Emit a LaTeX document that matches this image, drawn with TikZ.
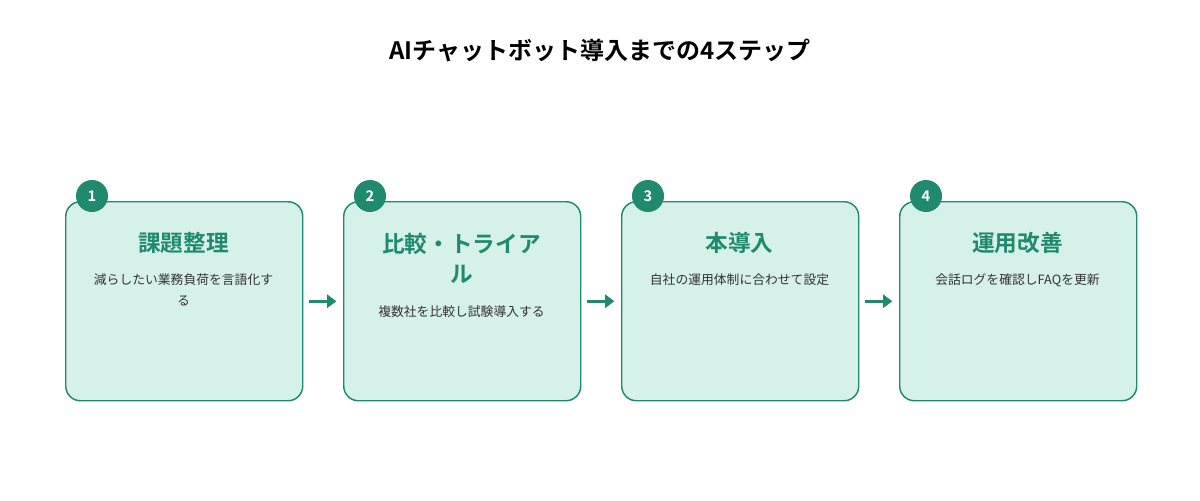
\documentclass[tikz,border=0pt]{standalone}
\usepackage{fontspec}
\newfontfamily\cjk{Noto Sans CJK JP}
\newfontfamily\cjkb{Noto Sans CJK JP Bold}
\usetikzlibrary{arrows.meta}
\definecolor{gr}{HTML}{1F8A6E}
\definecolor{bx}{HTML}{D6F1E9}
\definecolor{tx}{HTML}{333333}
\begin{document}
\begin{tikzpicture}[x=0.75pt,y=-0.75pt,
 box/.style={draw=gr,fill=bx,line width=1.1pt,rounded corners=11pt,minimum width=177.75pt,minimum height=149.25pt,inner sep=0},
 num/.style={circle,fill=gr,minimum size=24pt,inner sep=0,text=white,font=\cjkb\fontsize{11}{13}\selectfont},
 ttl/.style={text=gr,font=\cjkb\fontsize{17}{22.5}\selectfont,align=center},
 dsc/.style={text=tx,font=\cjk\fontsize{9.6}{16}\selectfont,align=center},
 arr/.style={draw=gr,line width=2.2pt,-{Triangle[length=7pt,width=10pt]}}]
\useasboundingbox (0,0) rectangle (1200,500);
\node[font=\cjkb\fontsize{18}{22}\selectfont,text=black] (title) at (600,51) {AIチャットボット導入までの4ステップ};
\foreach \i/\x in {1/65,2/343,3/621,4/899}{
  \node[box,anchor=north west] (b\i) at (\x,201) {};
  \node[num] (n\i) at (\x+27,196) {\i};
}
\node[ttl] (t1) at (183.5,243) {課題整理};
\node[dsc] (d1) at (183.5,290) {減らしたい業務負荷を言語化す\\る};
\node[ttl] (t2) at (461.5,258) {比較・トライア\\ル};
\node[dsc] (d2) at (461.5,312) {複数社を比較し試験導入する};
\node[ttl] (t3) at (739.5,243) {本導入};
\node[dsc] (d3) at (739.5,280) {自社の運用体制に合わせて設定};
\node[ttl] (t4) at (1017.5,243) {運用改善};
\node[dsc] (d4) at (1017.5,280) {会話ログを確認しFAQを更新};
\foreach \a/\b in {1/2,2/3,3/4}{
  \draw[arr] ([xshift=4.5pt]b\a.east) -- ([xshift=-5pt]b\b.west);
}
\end{tikzpicture}
\end{document}
